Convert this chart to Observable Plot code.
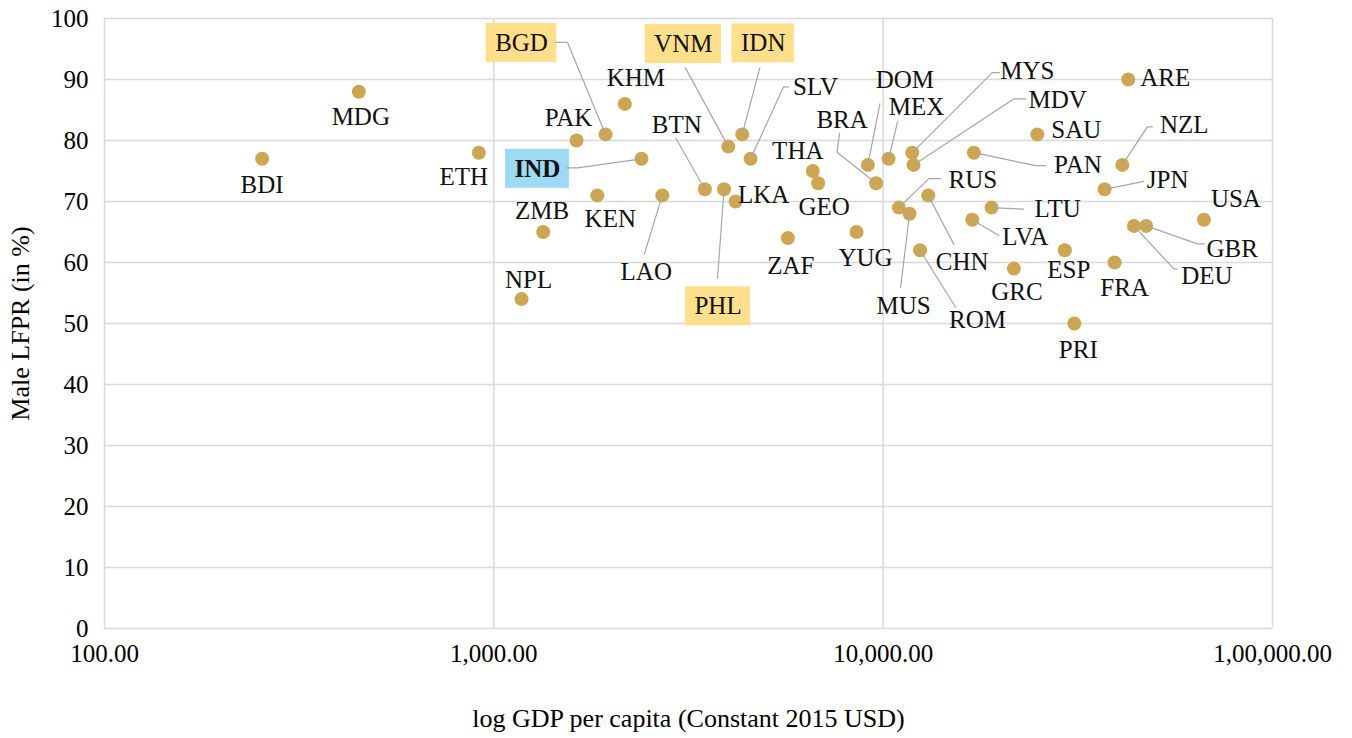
<!DOCTYPE html>
<html><head><meta charset="utf-8">
<script src="https://cdn.jsdelivr.net/npm/d3@7"></script>
<script src="https://cdn.jsdelivr.net/npm/@observablehq/plot@0.6"></script>
<style>body{margin:0;background:#fff}</style>
</head><body><div id="chart"></div>
<script>
// ---- data ----
const countries = ["BDI","MDG","ETH","NPL","ZMB","PAK","KEN","BGD","KHM","IND","LAO","BTN","PHL","VNM","LKA","IDN","SLV","ZAF","THA","GEO","YUG","DOM","BRA","MEX","RUS","MUS","MYS","MDV","ROM","CHN","LVA","PAN","LTU","GRC","SAU","ESP","PRI","JPN","FRA","NZL","ARE","DEU","GBR","USA"];
const gdpPerCapita = [254,450,915,1178,1339,1631,1844,1936,2170,2395,2708,3483,3902,4001,4178,4345,4565,5691,6596,6806,8545,9135,9590,10325,10973,11689,11877,11970,12438,13054,16938,17100,18985,21663,24880,29280,30970,37050,39300,41140,42620,44060,47400,66650];
const maleLFPR = [77,88,78,54,65,80,71,81,86,77,71,72,72,79,70,81,77,64,75,73,65,76,73,77,69,68,78,76,62,71,67,78,69,59,81,62,50,72,60,76,90,66,66,67];
const highlighted = ["BGD","VNM","IDN","PHL"];
const focusCountry = "IND";
const xTicks = [100, 1000, 10000, 100000];
const xTickLabels = ["100.00", "1,000.00", "10,000.00", "1,00,000.00"];
const yTicks = [0,10,20,30,40,50,60,70,80,90,100];
const xLabel = "log GDP per capita (Constant 2015 USD)";
const yLabel = "Male LFPR (in %)";

// ---- layout (label offsets in px from the point, leader-line bends) ----
const labelLayout = {
  BDI:{d:[0,26]}, MDG:{d:[2,25]}, ETH:{d:[-15,24]}, NPL:{d:[7,-19]}, ZMB:{d:[-1,-21]},
  PAK:{d:[-8,-23]}, KEN:{d:[13,24]}, BGD:{d:[-84,-91.5],l:[[-50,-92],[-38,-92]]},
  KHM:{d:[11,-26]}, IND:{d:[-104,10],l:[[-75,9],[-64,9]]}, LAO:{d:[-16,77],l:[[-18,59]]},
  BTN:{d:[-28,-64.5],l:[[-29,-51]]}, PHL:{d:[-6,117],l:[[-6.5,89]]}, VNM:{d:[-45,-102.5],l:[[-43,-79]]},
  LKA:{d:[28,-7]}, IDN:{d:[21,-91],l:[[17.6,-66.6]]}, SLV:{d:[65,-72],l:[[38,-72],[33,-72]]},
  ZAF:{d:[3,28]}, THA:{d:[-15,-20]}, GEO:{d:[6,23.5]}, YUG:{d:[9,26]},
  DOM:{d:[37,-85],l:[[12,-61]]}, BRA:{d:[-34,-63],l:[[-36.5,-50],[-39,-31]]}, MEX:{d:[28,-52],l:[[9,-37]]},
  RUS:{d:[74,-28],l:[[42,-29],[30,-29]]}, MUS:{d:[-6,92],l:[[-9,74]]},
  MYS:{d:[115,-82],l:[[87,-80],[80,-80]]}, MDV:{d:[144,-65],l:[[112,-66],[100,-66]]},
  ROM:{d:[57.5,70],l:[[35.5,57]]}, CHN:{d:[34,67],l:[[25.6,49]]}, LVA:{d:[53,17],l:[[26.6,15.7]]},
  PAN:{d:[104,12],l:[[72,13],[62,13]]}, LTU:{d:[66,1],l:[[32,1.6]]}, GRC:{d:[3,23]},
  SAU:{d:[39,-4]}, ESP:{d:[4,20]}, PRI:{d:[4,26]}, JPN:{d:[63,-9],l:[[39,-8]]},
  FRA:{d:[10,25]}, NZL:{d:[62,-40],l:[[30,-38],[25,-38]]}, ARE:{d:[37,-2]},
  DEU:{d:[73,50],l:[[43,43],[40,43]]}, GBR:{d:[86,23],l:[[58,18],[51,18]]}, USA:{d:[32,-21]}
};

const W = 1352, H = 738, mL = 104, mR = 80, mT = 18, mB = 110;
const FONT = "'Liberation Serif', 'Times New Roman', serif";
const FS = 25;
const FS_TITLE = 26;

const xs = Plot.scale({x: {type: "log", domain: [100, 100000], range: [mL, W - mR]}});
const ys = Plot.scale({y: {type: "linear", domain: [0, 100], range: [H - mB, mT]}});
const px = (v, ox) => xs.invert(xs.apply(v) + ox);
const py = (v, oy) => ys.invert(ys.apply(v) + oy);

const data = countries.map((c, i) => ({c, x: gdpPerCapita[i], y: maleLFPR[i]}));
const labels = data.map(d => {
  const L = labelLayout[d.c];
  return {c: d.c, x: px(d.x, L.d[0]), y: py(d.y, L.d[1]), cx: xs.apply(d.x) + L.d[0], cy: ys.apply(d.y) + L.d[1]};
});
const leaders = [];
data.forEach(d => {
  const L = labelLayout[d.c];
  if (!L.l) return;
  L.l.forEach(o => leaders.push({c: d.c, x: px(d.x, o[0]), y: py(d.y, o[1])}));
  leaders.push({c: d.c, x: d.x, y: d.y});
});

const ctx = document.createElement("canvas").getContext("2d");
function boxFor(lab, bold) {
  ctx.font = (bold ? "bold " : "") + FS + "px " + FONT;
  const w = ctx.measureText(lab.c).width + 18;
  return {x1: xs.invert(lab.cx - w / 2), x2: xs.invert(lab.cx + w / 2), y1: ys.invert(lab.cy - 19.5), y2: ys.invert(lab.cy + 19.5)};
}
const yellowBoxes = labels.filter(l => highlighted.includes(l.c)).map(l => boxFor(l, false));
const blueBoxes = labels.filter(l => l.c === focusCountry).map(l => boxFor(l, true));

const chart = Plot.plot({
  width: W, height: H,
  marginLeft: mL, marginRight: mR, marginTop: mT, marginBottom: mB,
  style: {fontFamily: FONT, fontSize: FS + "px", background: "#fff", color: "#000"},
  x: {type: "log", domain: [100, 100000]},
  y: {domain: [0, 100]},
  marks: [
    Plot.gridY(yTicks, {stroke: "#d9d9d9", strokeOpacity: 1, strokeWidth: 1.5}),
    Plot.gridX(xTicks, {stroke: "#d9d9d9", strokeOpacity: 1, strokeWidth: 1.5}),
    Plot.axisX(xTicks, {tickSize: 0, tickPadding: 16, fontSize: FS, tickFormat: d => xTickLabels[xTicks.indexOf(d)], label: null}),
    Plot.axisY(yTicks, {tickSize: 0, tickPadding: 16, fontSize: FS, label: null}),
    Plot.text([xLabel], {frameAnchor: "bottom", dy: 90, lineAnchor: "middle", textAnchor: "middle", fontSize: FS_TITLE, fill: "#000"}),
    Plot.text([yLabel], {frameAnchor: "left", dx: -84, rotate: -90, textAnchor: "middle", lineAnchor: "middle", fontSize: FS_TITLE, fill: "#000"}),
    Plot.rect(yellowBoxes, {x1: "x1", x2: "x2", y1: "y1", y2: "y2", fill: "#ffdf8c"}),
    Plot.rect(blueBoxes, {x1: "x1", x2: "x2", y1: "y1", y2: "y2", fill: "#9ddaf6"}),
    Plot.dot(data, {x: "x", y: "y", r: 7, fill: "#cca652", stroke: "none"}),
    Plot.line(leaders, {x: "x", y: "y", z: "c", stroke: "#a6a6a6", strokeWidth: 1.2}),
    Plot.text(labels.filter(l => l.c !== focusCountry), {x: "x", y: "y", text: "c", fontSize: FS, fill: "#111"}),
    Plot.text(labels.filter(l => l.c === focusCountry), {x: "x", y: "y", text: "c", fontSize: FS, fontWeight: "bold", fill: "#111"})
  ]
});
document.getElementById("chart").appendChild(chart);
</script>
</body></html>
